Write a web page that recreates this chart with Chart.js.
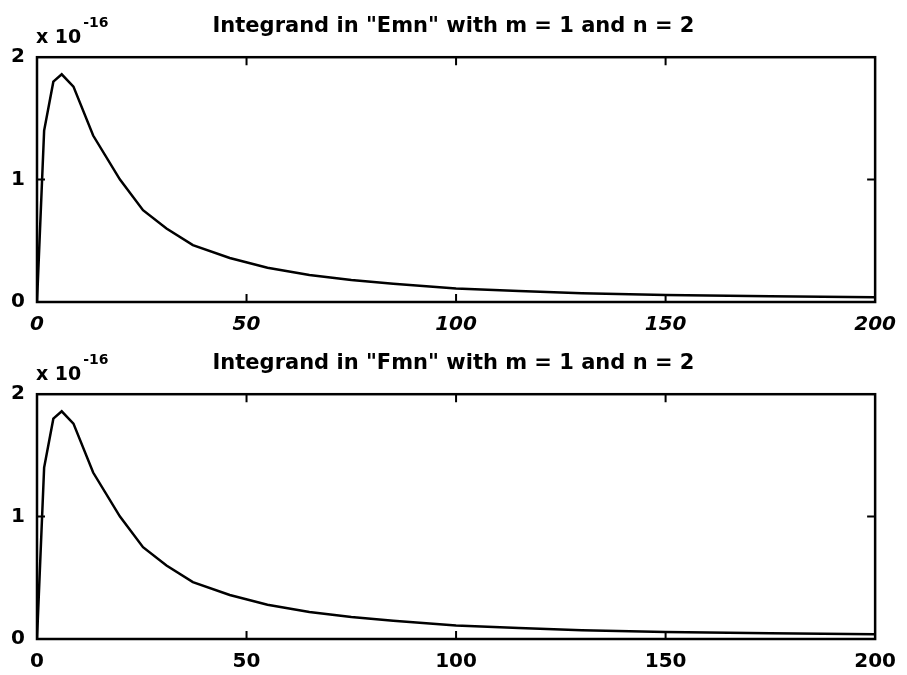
<!DOCTYPE html>
<html>
<head>
<meta charset="utf-8">
<script src="https://cdn.jsdelivr.net/npm/chart.js@4/dist/chart.umd.min.js"></script>
<style>
    html, body { margin: 0; padding: 0; background: #fff; }
    #wrap { position: relative; width: 907px; height: 675px; }
    .plot { position: absolute; left: 0; width: 907px; height: 337px; }
</style>
</head>
<body>
<div id="wrap">
    <div class="plot" style="top:0px"><canvas id="plotE" width="907" height="337"></canvas></div>
    <div class="plot" style="top:337px"><canvas id="plotF" width="907" height="337"></canvas></div>
</div>
<script>
// values are in units of 1e-16
const xValues   = [0, 1.7, 3.9, 5.9, 8.7, 13.4, 19.8, 25.3, 30.9, 37.2, 46, 55, 65, 75, 85, 100, 115, 130, 150, 175, 200];
const emnValues = [0, 1.40, 1.80, 1.86, 1.76, 1.36, 1.00, 0.75, 0.60, 0.465, 0.36, 0.28, 0.22, 0.18, 0.15, 0.11, 0.09, 0.072, 0.058, 0.046, 0.038];
const fmnValues = [0, 1.40, 1.80, 1.86, 1.76, 1.36, 1.00, 0.75, 0.60, 0.465, 0.36, 0.28, 0.22, 0.18, 0.15, 0.11, 0.09, 0.072, 0.058, 0.046, 0.038];

const xTickValues = [0, 50, 100, 150, 200];
const yTickValues = [0, 1, 2];
const exponentText = ['x 10', '-16'];
const titles = ['Integrand in "Emn" with m = 1 and n = 2', 'Integrand in "Fmn" with m = 1 and n = 2'];

const FONT = '"DejaVu Sans", "Liberation Sans", Arial, sans-serif';

// box round the plot, inward ticks, and the "x 10^-16" note
const framePlugin = {
    id: 'frame',
    afterDraw(chart) {
        const ctx = chart.ctx;
        const a = chart.chartArea;
        const x = chart.scales.x;
        const y = chart.scales.y;
        ctx.save();
        ctx.strokeStyle = '#000';
        ctx.lineWidth = 2.5;
        ctx.strokeRect(a.left, a.top, a.right - a.left, a.bottom - a.top);

        ctx.lineWidth = 2;
        ctx.beginPath();
        xTickValues.slice(1, -1).forEach(v => {
            const px = x.getPixelForValue(v);
            ctx.moveTo(px, a.top);
            ctx.lineTo(px, a.top + 8);
            ctx.moveTo(px, a.bottom);
            ctx.lineTo(px, a.bottom - 8);
        });
        yTickValues.slice(1, -1).forEach(v => {
            const py = y.getPixelForValue(v);
            ctx.moveTo(a.left, py);
            ctx.lineTo(a.left + 8, py);
            ctx.moveTo(a.right, py);
            ctx.lineTo(a.right - 8, py);
        });
        ctx.stroke();

        ctx.fillStyle = '#000';
        ctx.textAlign = 'left';
        ctx.textBaseline = 'alphabetic';
        ctx.font = 'bold 19px ' + FONT;
        ctx.fillText(exponentText[0], a.left - 1, a.top - 14);
        const w = ctx.measureText(exponentText[0]).width;
        ctx.font = 'bold 14px ' + FONT;
        ctx.fillText(exponentText[1], a.left + w + 1, a.top - 30);
        ctx.restore();
    }
};

function makePlot(canvasId, title, values, italicX) {
    const ctx = document.getElementById(canvasId).getContext('2d');
    return new Chart(ctx, {
        type: 'line',
        data: {
            labels: xValues,
            datasets: [{
                data: xValues.map((v, i) => ({ x: v, y: values[i] })),
                borderColor: '#000',
                borderWidth: 2.5,
                pointRadius: 0,
                tension: 0,
                fill: false
            }]
        },
        options: {
            responsive: false,
            animation: false,
            layout: { padding: 0 },
            plugins: {
                legend: { display: false },
                tooltip: { enabled: false },
                title: {
                    display: true,
                    text: title,
                    color: '#000',
                    font: { family: FONT, size: 21, weight: 'bold' },
                    padding: { top: 14, bottom: 18 }
                }
            },
            scales: {
                x: {
                    type: 'linear',
                    min: 0,
                    max: 200,
                    afterBuildTicks: s => { s.ticks = xTickValues.map(v => ({ value: v })); },
                    afterFit: s => { s.height = 35; },
                    grid: { display: false, drawTicks: false },
                    border: { display: false },
                    ticks: {
                        color: '#000',
                        padding: 11,
                        maxRotation: 0,
                        autoSkip: false,
                        font: { family: FONT, size: 20, weight: 'bold', style: italicX ? 'italic' : 'normal' }
                    }
                },
                y: {
                    min: 0,
                    max: 2,
                    afterBuildTicks: s => { s.ticks = yTickValues.map(v => ({ value: v })); },
                    afterFit: s => { s.width = 37; },
                    grid: { display: false, drawTicks: false },
                    border: { display: false },
                    ticks: {
                        color: '#000',
                        padding: 12,
                        font: { family: FONT, size: 20, weight: 'bold' }
                    }
                },
                // empty right-hand axis, only keeps the margin on that side
                yRight: {
                    position: 'right',
                    min: 0,
                    max: 2,
                    afterFit: s => { s.width = 31; },
                    grid: { display: false, drawTicks: false },
                    border: { display: false },
                    ticks: { display: false }
                }
            }
        },
        plugins: [framePlugin]
    });
}

makePlot('plotE', titles[0], emnValues, true);
makePlot('plotF', titles[1], fmnValues, false);
</script>
</body>
</html>
